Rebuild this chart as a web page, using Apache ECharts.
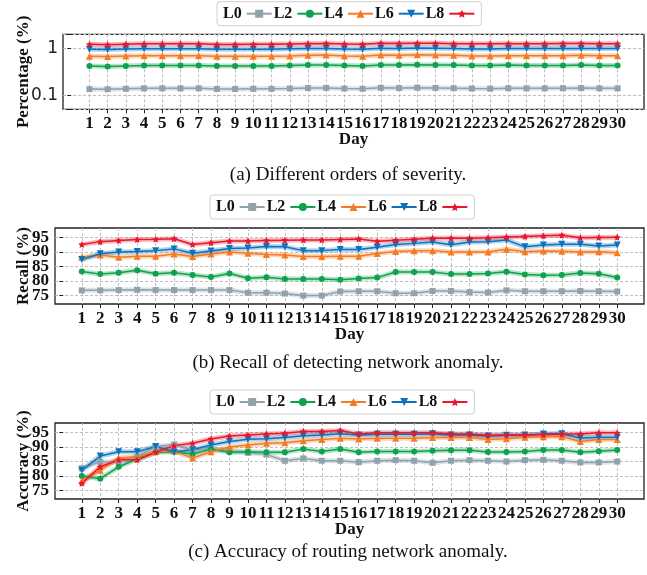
<!DOCTYPE html>
<html><head><meta charset="utf-8">
<script src="https://cdn.jsdelivr.net/npm/echarts@6/dist/echarts.min.js"></script>
<style>html,body{margin:0;padding:0;background:#fff}#c{width:647px;height:575px}</style>
</head><body><div id="c"></div>
<script>
const days = [1,2,3,4,5,6,7,8,9,10,11,12,13,14,15,16,17,18,19,20,21,22,23,24,25,26,27,28,29,30];
const levelNames = ['L0','L2','L4','L6','L8'];
const yTicksLinear = [75,80,85,90,95];
const titles = ['(a) Different orders of severity.','(b) Recall of detecting network anomaly.','(c) Accuracy of routing network anomaly.'];
const yNames = ['Percentage (%)','Recall (%)','Accuracy (%)'];

// (a) Percentage
const pctL0 = [0.135,0.134,0.137,0.140,0.140,0.140,0.140,0.136,0.136,0.137,0.137,0.139,0.142,0.143,0.139,0.137,0.144,0.142,0.145,0.143,0.141,0.139,0.138,0.141,0.140,0.140,0.141,0.142,0.140,0.140];
const pctL2 = [0.42,0.41,0.42,0.43,0.43,0.43,0.43,0.42,0.42,0.42,0.42,0.43,0.44,0.44,0.43,0.42,0.44,0.44,0.45,0.44,0.44,0.43,0.43,0.44,0.43,0.43,0.43,0.44,0.43,0.43];
const pctL4 = [0.68,0.67,0.69,0.70,0.70,0.70,0.70,0.68,0.68,0.68,0.68,0.69,0.71,0.72,0.69,0.68,0.72,0.71,0.73,0.72,0.71,0.69,0.69,0.70,0.70,0.70,0.70,0.71,0.70,0.70];
const pctL6 = [0.96,0.95,0.97,0.98,0.98,0.98,0.98,0.96,0.96,0.96,0.96,0.98,0.99,1.00,0.97,0.96,1.01,1.00,1.02,1.01,0.99,0.97,0.97,0.99,0.99,0.99,0.99,1.00,0.99,0.99];
const pctL8 = [1.22,1.20,1.23,1.25,1.25,1.25,1.25,1.21,1.21,1.22,1.22,1.24,1.26,1.27,1.24,1.23,1.28,1.27,1.29,1.28,1.26,1.25,1.25,1.26,1.26,1.26,1.27,1.27,1.26,1.26];

// (b) Recall
const recL0 = [76.7,76.7,76.8,76.9,76.8,76.8,76.8,76.8,76.8,75.9,75.9,75.6,74.9,74.9,76.3,76.4,76.4,75.7,75.7,76.5,76.5,76.1,76.0,76.7,76.4,76.4,76.4,76.5,76.4,76.3];
const recL2 = [83.2,82.3,82.8,83.6,82.4,82.8,82.0,81.3,82.5,80.9,81.2,80.6,80.6,80.6,80.4,80.8,81.1,83.0,83.0,83.0,82.3,82.3,82.5,83.1,82.2,81.9,82.0,82.7,82.4,81.1];
const recL4 = [88.1,88.9,88.1,88.5,88.5,89.2,88.4,89.2,89.9,89.5,89.1,88.9,88.4,88.4,88.5,88.5,89.4,90.1,90.4,90.4,89.9,89.9,89.9,90.9,90.0,90.3,90.2,89.9,90.0,89.7];
const recL6 = [87.3,89.3,89.9,90.1,90.4,91.0,89.5,90.3,91.1,91.3,91.8,91.7,90.4,90.4,90.8,90.8,91.6,92.5,92.9,93.4,92.4,93.4,93.5,94.1,91.7,92.3,92.6,92.6,92.0,92.3];
const recL8 = [92.5,93.5,93.9,94.2,94.3,94.5,92.5,93.1,93.7,93.7,93.9,94.0,94.1,94.1,94.2,94.4,93.6,94.0,94.3,94.7,94.7,94.7,94.8,95.1,95.3,95.5,95.7,94.8,94.9,95.0];

// (c) Accuracy
const accL0 = [82.6,84.8,84.8,86.6,90.1,90.8,88.9,89.2,88.6,87.9,87.3,85.2,86.0,85.2,85.2,84.7,85.2,85.4,85.2,84.5,85.2,85.4,85.2,84.9,85.4,85.5,85.2,84.6,84.6,84.9];
const accL2 = [79.9,79.0,83.1,85.8,88.1,88.3,87.5,89.2,88.1,88.3,88.1,88.1,89.2,88.4,89.2,88.1,88.4,88.4,88.4,88.6,88.8,88.8,88.2,88.2,88.4,88.9,88.9,88.1,88.5,88.9];
const accL4 = [78.2,81.9,86.1,86.6,88.4,88.6,86.1,88.3,89.9,90.6,91.2,91.4,92.1,92.5,92.9,92.7,92.9,92.9,92.9,93.2,93.2,93.2,92.5,92.8,93.3,93.5,93.5,91.8,92.5,92.5];
const accL6 = [81.9,86.8,88.3,88.3,90.1,88.2,89.0,90.6,91.8,92.6,92.8,93.2,93.8,94.1,94.5,94.1,94.3,94.3,94.3,94.5,94.1,94.1,93.7,94.0,94.1,94.4,94.5,93.0,93.3,93.3];
const accL8 = [77.4,83.1,85.5,85.5,88.1,90.4,91.2,92.7,93.7,94.1,94.4,94.7,95.3,95.3,95.6,94.4,94.8,94.8,94.8,94.8,94.4,94.4,94.0,94.1,94.1,94.2,94.4,94.4,94.8,94.8];

const panels = [
  [pctL0,pctL2,pctL4,pctL6,pctL8],
  [recL0,recL2,recL4,recL6,recL8],
  [accL0,accL2,accL4,accL6,accL8]
];

const colors = ['#8fa3ad','#0ea24c','#f57a20','#0b72bd','#e8172b'];
const star = 'path://M0,-10L2.9,-4L9.5,-3.1L4.7,1.6L5.9,8.1L0,5L-5.9,8.1L-4.7,1.6L-9.5,-3.1L-2.9,-4Z';
const symbols = ['rect','circle','triangle','triangle',star];
const symRot = [0,0,0,180,0];
const symSize = [6,6,7,7,7];

const SERIF = 'Liberation Serif';
const gridDefs = [
  {left:63, top:34.3, width:581, height:75},
  {left:55, top:228, width:589, height:76},
  {left:55, top:423, width:589, height:76}
];
const legendPos = [{left:217, top:1.7},{left:210, top:195},{left:210, top:390}];
const titleY = [161, 349, 538];

const grid = gridDefs.map(g => Object.assign({show:true, borderColor:'#222', borderWidth:1.3, backgroundColor:'transparent'}, g));

const splitStyle = {show:true, lineStyle:{type:[3,2], color:'#b8b8b8', width:0.9}};
const nameStyle = {fontFamily:SERIF, fontWeight:'bold', fontSize:17, color:'#111'};
const tickLabelStyle = {fontFamily:SERIF, fontWeight:'bold', fontSize:17, color:'#111'};
const xAxis = gridDefs.map((g,i) => ({
  type:'value', gridIndex:i, min:-0.45, max:31.45,
  axisLine:{show:false},
  axisTick:{show:true, customValues:days, length:4, lineStyle:{color:'#222', width:1}},
  axisLabel:Object.assign({customValues:days, interval:0, margin:6, showMinLabel:true, showMaxLabel:true}, tickLabelStyle),
  splitLine:splitStyle,
  name:'Day', nameLocation:'middle', nameGap:22, nameMoveOverlap:false,
  nameTextStyle:nameStyle
}));

const yAxis = [
  {type:'log', logBase:10, gridIndex:0, min:0.05, max:2,
   axisLine:{show:false},
   axisTick:{show:true, length:4, lineStyle:{color:'#222'}},
   axisLabel:{margin:5, fontFamily:'DejaVu Sans', fontSize:17, color:'#222',
     formatter:v => (Math.abs(v-1)<1e-9 ? '1' : (Math.abs(v-0.1)<1e-9 ? '0.1' : ''))},
   splitLine:splitStyle,
   name:yNames[0], nameLocation:'middle', nameGap:31, nameMoveOverlap:false,
   nameTextStyle:nameStyle
  }
];
// split the tick labels over two coincident axes so neighbouring labels never get auto-hidden
const labelsEven = yTicksLinear.filter((v,i)=>i%2===0);
const labelsOdd = yTicksLinear.filter((v,i)=>i%2===1);
for (let i=1;i<3;i++) {
  yAxis.push({type:'value', gridIndex:i, min:72, max:98.2, position:'left',
   axisLine:{show:false},
   axisTick:{show:true, customValues:yTicksLinear, length:4, lineStyle:{color:'#222'}},
   axisLabel:Object.assign({customValues:labelsEven, interval:0, margin:6, showMinLabel:true, showMaxLabel:true}, tickLabelStyle),
   splitLine:splitStyle,
   name:yNames[i], nameLocation:'middle', nameGap:23, nameMoveOverlap:false,
   nameTextStyle:nameStyle
  });
}
for (let i=1;i<3;i++) {
  yAxis.push({type:'value', gridIndex:i, min:72, max:98.2, position:'left', offset:0,
   axisLine:{show:false},
   axisTick:{show:false, customValues:labelsOdd},
   axisLabel:Object.assign({customValues:labelsOdd, interval:0, margin:6, showMinLabel:true, showMaxLabel:true}, tickLabelStyle),
   splitLine:{show:false}
  });
}

const series = [];
panels.forEach((arrs, p) => {
  arrs.forEach((arr, k) => {
    series.push({
      type:'line', name:levelNames[k]+'_band'+p, xAxisIndex:p, yAxisIndex:p,
      data:days.map((d,i)=>[d,arr[i]]), symbol:'none', silent:true, z:1,
      lineStyle:{width:5, color:colors[k], opacity:0.3}
    });
  });
  arrs.forEach((arr, k) => {
    series.push({
      type:'line', name:levelNames[k], xAxisIndex:p, yAxisIndex:p,
      data:days.map((d,i)=>[d,arr[i]]),
      symbol:symbols[k], symbolRotate:symRot[k], symbolSize:symSize[k],
      itemStyle:{color:colors[k]}, lineStyle:{width:1.5, color:colors[k]}, z:2
    });
  });
});

const legend = legendPos.map(pos => Object.assign({
  data:levelNames, align:'right', orient:'horizontal',
  itemWidth:25, itemHeight:10, itemGap:1, padding:[4,6],
  borderColor:'#cfcfcf', borderWidth:1, borderRadius:3,
  textStyle:{fontFamily:SERIF, fontWeight:'bold', fontSize:16, color:'#111'}
}, pos));

const title = titles.map((t,i) => ({
  text:t, left:343, top:titleY[i], textAlign:'center',
  textStyle:{fontFamily:SERIF, fontWeight:'normal', fontSize:19, color:'#111'}
}));

const chart = echarts.init(document.getElementById('c'), null, {renderer:'canvas'});
chart.setOption({animation:false, backgroundColor:'#fff', grid, xAxis, yAxis, series, legend, title});
</script></body></html>
